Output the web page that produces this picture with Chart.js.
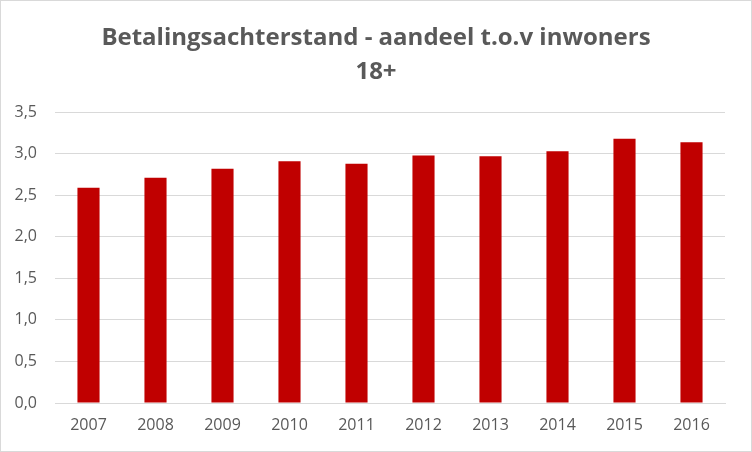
<!DOCTYPE html>
<html>
<head>
<meta charset="utf-8">
<script src="https://cdn.jsdelivr.net/npm/chart.js@4/dist/chart.umd.min.js"></script>
<style>
  html, body { margin: 0; padding: 0; background: #fff; }
  #wrap { position: relative; width: 752px; height: 452px; box-sizing: border-box; border: 1px solid #d9d9d9; }
  canvas { display: block; }
</style>
</head>
<body>
<div id="wrap"><canvas id="chart" width="750" height="450"></canvas></div>
<script>
// data
const years = ['2007', '2008', '2009', '2010', '2011', '2012', '2013', '2014', '2015', '2016'];
const shares = [2.59, 2.71, 2.82, 2.91, 2.88, 2.98, 2.97, 3.03, 3.18, 3.14];
const titleLines = ['Betalingsachterstand - aandeel t.o.v inwoners', '18+'];

const textGray = '#595959';
const gridGray = '#d9d9d9';
const barRed = '#c00000';

new Chart(document.getElementById('chart'), {
  type: 'bar',
  data: {
    labels: years,
    datasets: [{
      data: shares,
      backgroundColor: barRed,
      borderWidth: 0,
      categoryPercentage: 1,
      barPercentage: 0.33
    }]
  },
  options: {
    responsive: false,
    animation: false,
    layout: { padding: { left: 0, right: 0, top: 0, bottom: 8 } },
    plugins: {
      legend: { display: false },
      tooltip: { enabled: false },
      title: {
        display: true,
        text: titleLines,
        color: textGray,
        font: { family: 'Open Sans', size: 24, weight: 'bold', lineHeight: 1.38 },
        padding: { top: 21, bottom: 24 }
      }
    },
    scales: {
      x: {
        grid: { display: false, drawTicks: false },
        border: { color: gridGray },
        ticks: { color: textGray, font: { family: 'Open Sans', size: 16 }, padding: 13 },
        afterFit(scale) { scale.height = 40; }
      },
      y: {
        min: 0,
        max: 3.5,
        grid: { color: gridGray, drawTicks: false },
        border: { display: false },
        ticks: {
          stepSize: 0.5,
          color: textGray,
          font: { family: 'Open Sans', size: 16 },
          padding: 18,
          callback(value) {
            return value.toFixed(1).replace('.', ',');
          }
        },
        afterFit(scale) { scale.width = 54; }
      },
      // empty axis that only reserves the right margin, keeps the title centred
      spacer: {
        position: 'right',
        grid: { display: false, drawTicks: false },
        border: { display: false },
        ticks: { display: false },
        afterFit(scale) { scale.width = 26; }
      }
    }
  }
});
</script>
</body>
</html>
